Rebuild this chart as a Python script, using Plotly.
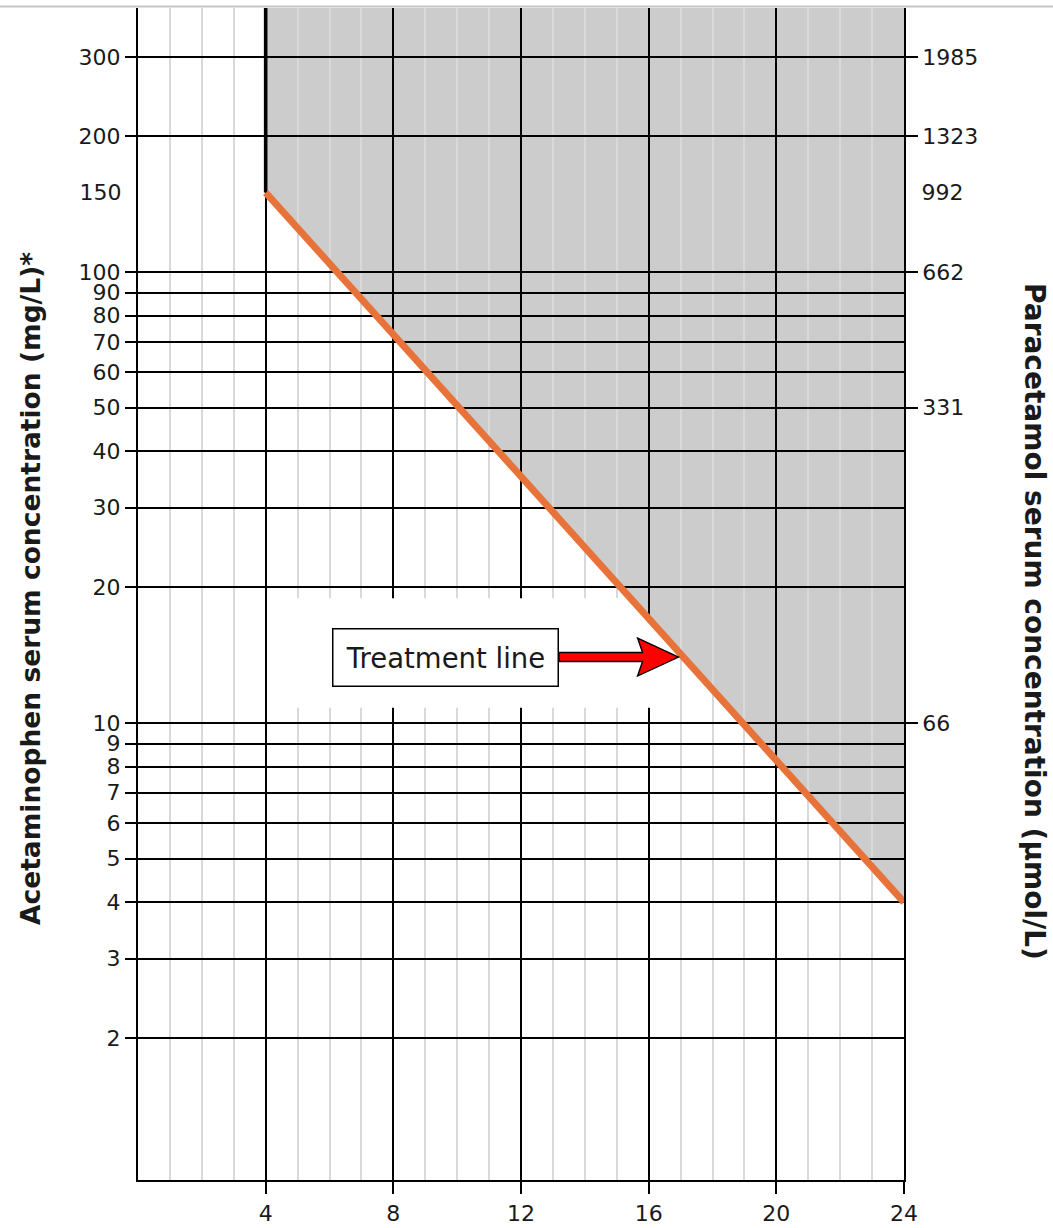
import math
import plotly.graph_objects as go

# ---------------- data ----------------
HOUR_TICKS = [4, 8, 12, 16, 20, 24]
HOUR_TICK_TEXT = ["4", "8", "12", "16", "20", "24"]
MG_TICKS = [2, 3, 4, 5, 6, 7, 8, 9, 10, 20, 30, 40, 50, 60, 70, 80, 90, 100, 200, 300]
MG_TICK_TEXT = [str(v) for v in MG_TICKS]
MG_LABEL_ONLY = [150]
UMOL_TICKS_AT_MG = [10, 50, 100, 200, 300]
UMOL_TICK_TEXT = ["66", "331", "662", "1323", "1985"]
UMOL_LABEL_ONLY_AT_MG = [150]
UMOL_LABEL_ONLY_TEXT = ["992"]
TREAT_X = [4, 24]          # hours
TREAT_Y = [150, 4]         # mg/L
X_RANGE = [0, 24]
Y_MIN, Y_MAX = 0.969, 385
Y_RANGE = [math.log10(Y_MIN), math.log10(Y_MAX)]

FONT = "DejaVu Sans"
TXT = "#1a1a1a"
W, H = 1053, 1228
ML, MR, MT, MB = 138, 149, 8, 48
PW, PH = W - ML - MR, H - MT - MB


def treat_y_at(x):
    (x0, x1), (y0, y1) = TREAT_X, TREAT_Y
    t = (x - x0) / (x1 - x0)
    return 10 ** (math.log10(y0) + t * (math.log10(y1) - math.log10(y0)))


def treat_x_at(y):
    (x0, x1), (y0, y1) = TREAT_X, TREAT_Y
    t = (math.log10(y) - math.log10(y0)) / (math.log10(y1) - math.log10(y0))
    return x0 + t * (x1 - x0)


def px_x(x):
    return ML + (x - X_RANGE[0]) / (X_RANGE[1] - X_RANGE[0]) * PW


fig = go.Figure()

# white break in the vertical grid behind the label (stops at the treatment line)
GAP_X0, GAP_X1, GAP_Y0, GAP_Y1 = 4.1, 16.5, 10.8, 18.9
gx = [GAP_X0, GAP_X0, treat_x_at(GAP_Y1), GAP_X1, GAP_X1]
gy = [GAP_Y0, GAP_Y1, GAP_Y1, treat_y_at(GAP_X1), GAP_Y0]
fig.add_trace(go.Scatter(x=gx, y=gy, fill="toself", fillcolor="white",
                         mode="lines", line=dict(width=0, color="white"),
                         hoverinfo="skip", showlegend=False))

# thick black boundary at 4 h above the line
fig.add_trace(go.Scatter(x=[TREAT_X[0], TREAT_X[0]], y=[TREAT_Y[0], Y_MAX],
                         mode="lines", line=dict(color="black", width=3.6),
                         hoverinfo="skip", showlegend=False))

# treatment line
fig.add_trace(go.Scatter(x=TREAT_X, y=TREAT_Y, mode="lines",
                         line=dict(color="#E8733A", width=7),
                         hoverinfo="skip", showlegend=False))

# grey treatment zone (below grid)
zone = [(TREAT_X[0], TREAT_Y[0]), (TREAT_X[1], TREAT_Y[1]),
        (TREAT_X[1], Y_MAX), (TREAT_X[0], Y_MAX)]
path = "M " + " L ".join(f"{x},{y}" for x, y in zone) + " Z"
shapes = [dict(type="path", path=path, xref="x", yref="y", layer="below",
               fillcolor="#CCCCCC", line=dict(width=0))]

# label + arrow
TIP_Y = 14.0
tip_x = treat_x_at(TIP_Y) - 0.15
BOX_RIGHT_PX = 559
shaft = px_x(tip_x) - BOX_RIGHT_PX
arrow = (f"M 0,0 L -41,19 L -36,4.5 L {-shaft},4.5 L {-shaft},-4.5 "
         f"L -36,-4.5 L -41,-19 Z")
shapes.append(dict(type="path", xref="x", yref="y", xsizemode="pixel",
                   ysizemode="pixel", xanchor=tip_x, yanchor=TIP_Y, path=arrow,
                   fillcolor="#FF0000", line=dict(color="black", width=1.4),
                   layer="above"))
# thin grey page border at the top
shapes.append(dict(type="line", xref="paper", yref="paper",
                   x0=-ML / PW, x1=(W - ML) / PW, y0=1 + 1.5 / PH, y1=1 + 1.5 / PH,
                   line=dict(color="#C6C6C6", width=2)))

annotations = [
    dict(text="Treatment line", xref="x", yref="y",
         x=(445.5 - ML) / PW * 24, y=math.log10(TIP_Y), showarrow=False,
         font=dict(family=FONT, size=27.5, color=TXT),
         bgcolor="white", bordercolor="black", borderwidth=1.5,
         width=222, height=54, borderpad=1),
    dict(text="<b>Acetaminophen serum concentration (mg/L)*</b>",
         xref="paper", yref="paper", x=(30 - ML) / PW, y=(H - MB - 589) / PH,
         textangle=-90, showarrow=False, xanchor="center", yanchor="middle",
         font=dict(family=FONT, size=26.5, color=TXT)),
    dict(text="<b>Paracetamol serum concentration (µmol/L)</b>",
         xref="paper", yref="paper", x=(1035 - ML) / PW, y=(H - MB - 621) / PH,
         textangle=90, showarrow=False, xanchor="center", yanchor="middle",
         font=dict(family=FONT, size=28, color=TXT)),
]

tickfont = dict(family=FONT, size=22, color=TXT)
common_y = dict(type="log", range=Y_RANGE, fixedrange=True, tickfont=tickfont,
                automargin=False)

fig.update_layout(
    width=W, height=H,
    margin=dict(l=ML, r=MR, t=MT, b=MB, autoexpand=False),
    paper_bgcolor="white", plot_bgcolor="white",
    showlegend=False,
    shapes=shapes, annotations=annotations,
    xaxis=dict(range=X_RANGE, tickvals=HOUR_TICKS, ticktext=HOUR_TICK_TEXT,
               showgrid=True, gridcolor="black", gridwidth=1.7,
               minor=dict(dtick=1, tick0=0, showgrid=True, gridcolor="#D9D9D9",
                          gridwidth=1.6, ticks=""),
               showline=True, linecolor="black", linewidth=2,
               ticks="outside", ticklen=12, tickwidth=1.7, tickcolor="black",
               ticklabelstandoff=1, automargin=False,
               zeroline=False, tickfont=tickfont, fixedrange=True),
    yaxis=dict(**common_y, tickvals=MG_TICKS, ticktext=MG_TICK_TEXT,
               showgrid=True, gridcolor="black", gridwidth=1.7,
               showline=True, linecolor="black", linewidth=2,
               ticks="outside", ticklen=11, tickwidth=1.7, tickcolor="black",
               zeroline=False),
    yaxis2=dict(**common_y, overlaying="y", side="right",
                tickvals=UMOL_TICKS_AT_MG, ticktext=UMOL_TICK_TEXT,
                showgrid=False, showline=True, linecolor="black", linewidth=1.8,
                ticks="outside", ticklen=12, tickwidth=1.7, tickcolor="black"),
    yaxis3=dict(**common_y, overlaying="y", side="left",
                tickvals=MG_LABEL_ONLY, ticktext=[str(v) for v in MG_LABEL_ONLY],
                showgrid=False, showline=False,
                ticks="outside", ticklen=11, tickcolor="rgba(0,0,0,0)"),
    yaxis4=dict(**common_y, overlaying="y", side="right",
                tickvals=UMOL_LABEL_ONLY_AT_MG, ticktext=UMOL_LABEL_ONLY_TEXT,
                showgrid=False, showline=False,
                ticks="outside", ticklen=12, tickcolor="rgba(0,0,0,0)"),
)

# invisible traces to activate the extra axes
for ax in ["y2", "y3", "y4"]:
    fig.add_trace(go.Scatter(x=[None], y=[None], yaxis=ax, showlegend=False,
                             hoverinfo="skip"))

fig.write_html(
    "out.html",
    config={"displayModeBar": False},
    post_script="document.body.style.margin='0px';document.body.style.padding='0px';"
                "document.body.style.overflow='hidden';",
)
